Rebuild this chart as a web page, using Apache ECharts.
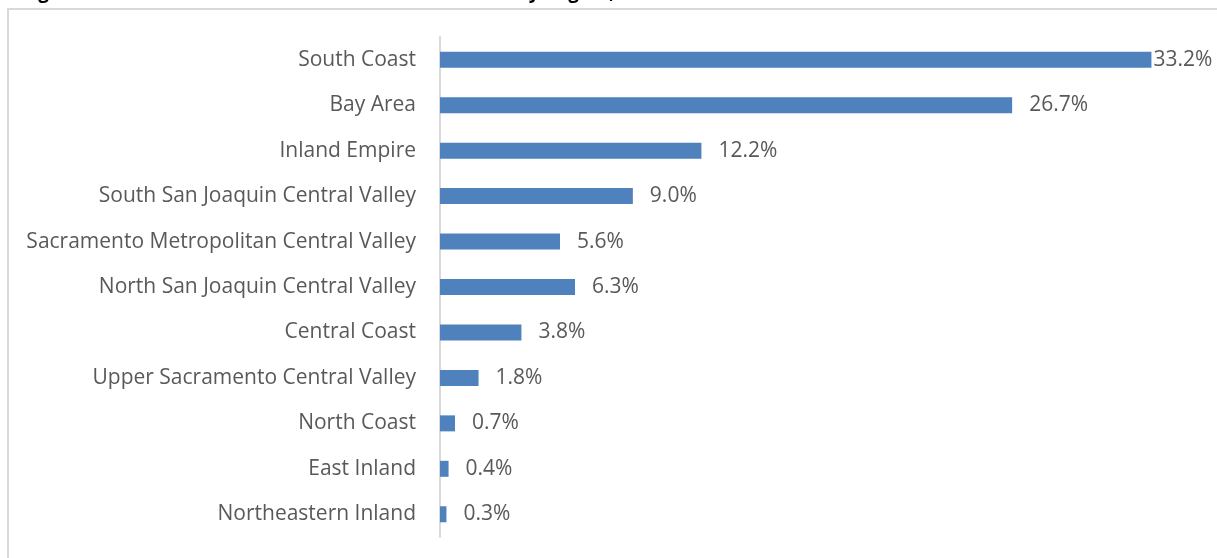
<!DOCTYPE html>
<html>
<head>
<meta charset="utf-8">
<title>Region share</title>
<script src="https://cdn.jsdelivr.net/npm/echarts@6/dist/echarts.min.js"></script>
<style>
  html, body { margin: 0; padding: 0; background: #fff; }
  #chart { width: 1217px; height: 558px; }
</style>
</head>
<body>
<div id="chart"></div>
<script>
// categories from top to bottom, as in the picture
const regions = [
  'South Coast',
  'Bay Area',
  'Inland Empire',
  'South San Joaquin Central Valley',
  'Sacramento Metropolitan Central Valley',
  'North San Joaquin Central Valley',
  'Central Coast',
  'Upper Sacramento Central Valley',
  'North Coast',
  'East Inland',
  'Northeastern Inland'
]
const shares = [33.2, 26.7, 12.2, 9.0, 5.6, 6.3, 3.8, 1.8, 0.7, 0.4, 0.3]

const textColor = '#595959'
const barColor = '#4f81bd'
const font = '"Open Sans", sans-serif'

const chart = echarts.init(document.getElementById('chart'))

const option = {
  animation: false,
  backgroundColor: '#fff',
  graphic: [
    {
      type: 'rect',
      shape: { x: 8, y: 9, width: 1400, height: 800 },
      style: { fill: 'none', stroke: '#d9d9d9', lineWidth: 2 },
      silent: true
    },
    {
      // title sits mostly above the visible area, only descenders show
      type: 'text',
      left: 22,
      top: -17,
      style: {
        text: 'Figure 4: Total Students Served in California Schools by Region, 2015-16',
        font: 'bold 19px ' + font,
        fill: '#000'
      }
    }
  ],
  grid: {
    left: 440,
    right: 27,
    top: 37,
    bottom: 21,
    containLabel: false
  },
  xAxis: {
    type: 'value',
    min: 0,
    max: 35,
    show: false
  },
  yAxis: {
    type: 'category',
    inverse: true,
    data: regions,
    axisLine: { lineStyle: { color: '#d9d9d9', width: 2 } },
    axisTick: { show: false },
    axisLabel: {
      color: textColor,
      fontSize: 21,
      fontFamily: font,
      margin: 24
    }
  },
  series: [
    {
      type: 'bar',
      barWidth: 16,
      data: shares.map((v, i) => ({
        value: v,
        label: i === 0 ? { distance: 2 } : undefined
      })),
      itemStyle: { color: barColor },
      label: {
        show: true,
        position: 'right',
        distance: 17,
        color: textColor,
        fontSize: 21,
        fontFamily: font,
        formatter: p => p.value.toFixed(1) + '%'
      }
    }
  ]
}

chart.setOption(option)
window.addEventListener('resize', () => chart.resize())
</script>
</body>
</html>
